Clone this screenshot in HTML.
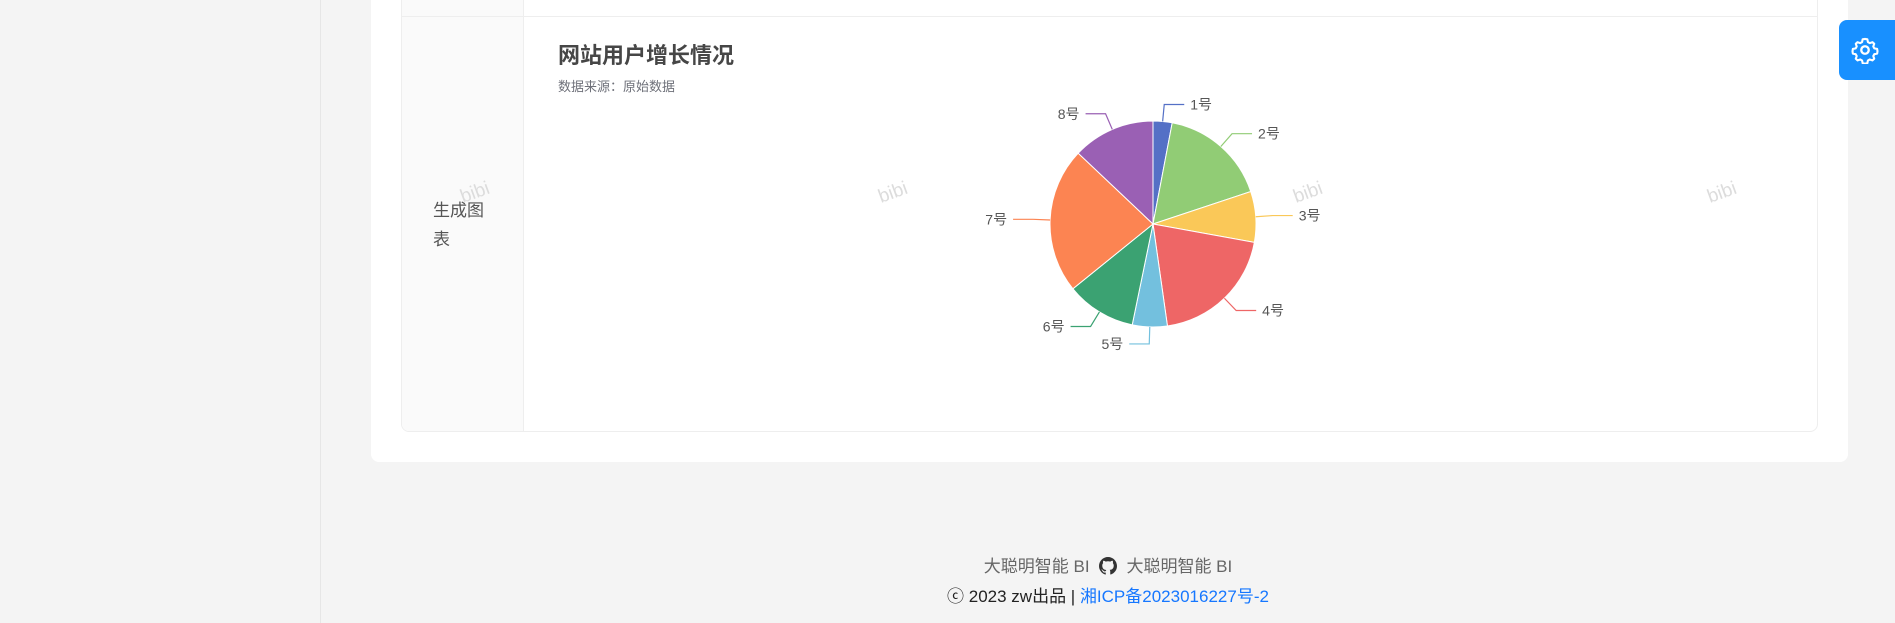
<!DOCTYPE html>
<html><head><meta charset="utf-8"><style>
body{margin:0;width:1895px;height:623px;background:#f4f4f4;position:relative;overflow:hidden;font-family:"Liberation Sans","Noto Sans CJK SC",sans-serif;}
.abs{position:absolute;}
</style></head><body>
<div class="abs" style="left:0;top:0;width:320px;height:623px;border-right:1px solid #e6e6e6;background:#f4f4f4"></div>
<div class="abs" style="left:371px;top:-10px;width:1477px;height:472px;background:#fff;border-radius:8px"></div>
<div class="abs" style="left:401px;top:-10px;width:1415px;height:440px;border:1px solid #eeeeee;border-radius:8px;overflow:hidden">
  <div class="abs" style="left:0;top:0;width:121px;height:440px;background:#fafafa;border-right:1px solid #eeeeee"></div>
  <div class="abs" style="left:0;top:25px;width:1415px;height:1px;background:#eeeeee"></div>
</div>
<div class="abs" style="left:433px;top:196px;font-size:17px;line-height:29px;color:#555;width:60px">生成图<br>表</div>
<div class="abs" style="left:558px;top:38px;font-size:22px;font-weight:bold;color:#464646">网站用户增长情况</div>
<div class="abs" style="left:558px;top:76px;font-size:13px;color:#6e7079">数据来源：原始数据</div>
<svg class="abs" style="left:0;top:0" width="1895" height="623" id="svg"></svg>
<div class="abs" style="left:1839px;top:20px;width:70px;height:60px;background:#1890ff;border-radius:8px">
<svg width="28" height="28" viewBox="0 0 24 24" style="position:absolute;left:12px;top:16px"><circle cx="12" cy="12" r="3.2" fill="none" stroke="#fff" stroke-width="2"/><path d="M12 2.5l2 .3.5 2.4 1.6.9 2.3-.8 1.5 1.4-.8 2.3.9 1.6 2.4.5.3 2-.3 2-2.4.5-.9 1.6.8 2.3-1.5 1.4-2.3-.8-1.6.9-.5 2.4-2 .3-2-.3-.5-2.4-1.6-.9-2.3.8-1.5-1.4.8-2.3-.9-1.6-2.4-.5-.3-2 .3-2 2.4-.5.9-1.6-.8-2.3 1.5-1.4 2.3.8 1.6-.9.5-2.4z" fill="none" stroke="#fff" stroke-width="1.8" stroke-linejoin="round"/></svg>
</div>
<div class="abs" style="left:0;width:2216px;top:552px;text-align:center;font-size:17px;color:#666">大聪明智能 BI &nbsp;<svg width="18" height="18" viewBox="0 0 16 16" style="vertical-align:-3px"><path fill="#333" d="M8 0C3.6 0 0 3.6 0 8c0 3.5 2.300 6.5 5.5 7.6.4.1.5-.2.5-.4v-1.4c-2.2.5-2.7-1-2.7-1-.4-.9-.9-1.2-.9-1.2-.7-.5.1-.5.1-.5.8.1 1.200.8 1.200.8.7 1.3 1.9.9 2.3.7.1-.5.3-.9.5-1.1-1.8-.2-3.6-.9-3.6-4 0-.9.3-1.600.8-2.1-.1-.2-.4-1 .1-2.1 0 0 .7-.2 2.2.8.6-.2 1.3-.3 2-.3s1.4.1 2 .3c1.5-1 2.2-.8 2.2-.8.4 1.1.2 1.9.1 2.1.5.6.8 1.3.8 2.1 0 3.1-1.9 3.7-3.6 3.9.3.3.5.8.5 1.5v2.2c0 .2.1.5.6.4C13.7 14.5 16 11.5 16 8c0-4.4-3.6-8-8-8z"/></svg> &nbsp;大聪明智能 BI</div>
<div class="abs" style="left:0;width:2216px;top:582px;text-align:center;font-size:17px;color:#222">ⓒ 2023 zw出品 | <span style="color:#1677ff">湘ICP备2023016227号-2</span></div>
<script>
const categories=["1号","2号","3号","4号","5号","6号","7号","8号"];
const values=[3,17,8,20,5.5,11,23,13];
const colors=["#5470c6","#91cc75","#fac858","#ee6666","#73c0de","#3ba272","#fc8452","#9a60b4"];
const svg=document.getElementById('svg');const NS="http://www.w3.org/2000/svg";
const cx=1153,cy=224,R=103;
function mk(t,a){const e=document.createElementNS(NS,t);for(const k in a)e.setAttribute(k,a[k]);svg.appendChild(e);return e;}
[[463,203],[881,203],[1296,203],[1710,203]].forEach(p=>{const w=mk('text',{x:p[0],y:p[1],'font-size':19,fill:'#dcdcdc',transform:`rotate(-20 ${p[0]} ${p[1]})`,'font-family':'Liberation Sans, sans-serif'});w.textContent='bibi';

});
const total=values.reduce((a,b)=>a+b,0);let acc=0;
function pt(a,r){return [cx+r*Math.sin(a),cy-r*Math.cos(a)];}
values.forEach((v,i)=>{const a0=acc/total*2*Math.PI;acc+=v;const a1=acc/total*2*Math.PI;
const p0=pt(a0,R),p1=pt(a1,R);const large=(a1-a0)>Math.PI?1:0;
const s=mk('path',{d:`M${cx},${cy}L${p0[0]},${p0[1]}A${R},${R} 0 ${large} 1 ${p1[0]},${p1[1]}Z`,fill:colors[i],stroke:'#fff','stroke-width':1});


const am=(a0+a1)/2;const q1=pt(am,R),q2=pt(am,R+17);const dir=Math.sin(am)>=0?1:-1;const q3=[q2[0]+dir*20,q2[1]];
const l=mk('polyline',{points:`${q1} ${q2} ${q3}`,fill:'none',stroke:colors[i],'stroke-width':1.2});


const t=mk('text',{x:q3[0]+dir*6,y:q3[1]+5,'font-size':14,fill:'#555','text-anchor':dir>0?'start':'end','font-family':'Liberation Sans, Noto Sans CJK SC, sans-serif'});t.textContent=categories[i];


});
</script>
</body></html>
